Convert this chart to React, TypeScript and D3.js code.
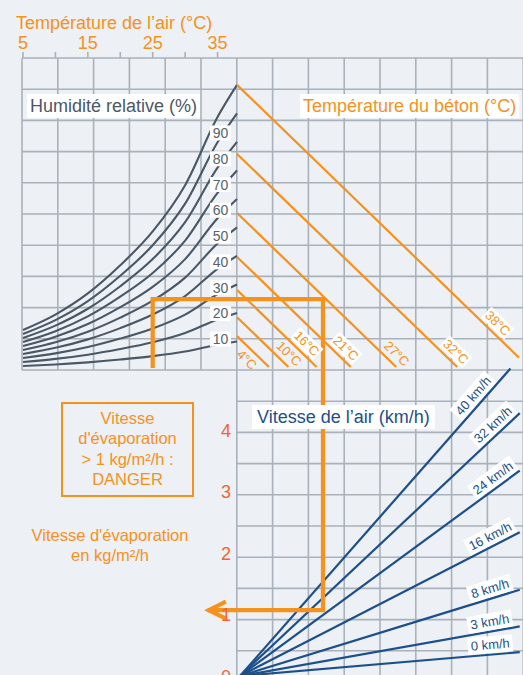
import React, { useEffect, useRef } from 'react';
import * as d3 from 'd3';

// ---------- data ----------
const AIR_TEMP_TICKS = [5, 10, 15, 20, 25, 30, 35];
const AIR_TEMP_LABELS = [5, 15, 25, 35];
// saturation (100 % RH) vapour pressure curve, kPa
const SAT_TEMPS = [5, 10, 15, 20, 25, 30, 35, 38];
const SAT_VP = [0.91, 1.26, 1.74, 2.38, 3.15, 4.2, 5.75, 6.48];
const RH_LEVELS = [100, 90, 80, 70, 60, 50, 40, 30, 20, 10];
const RH_LABELS = [90, 80, 70, 60, 50, 40, 30, 20, 10];
const RH_LABEL_TEMP = 35.45;

const CONCRETE_TEMPS = [4, 10, 16, 21, 27, 32, 38];
const CONCRETE_START_VP = [0.77, 1.2, 1.82, 2.57, 3.57, 4.91, 6.48];
const CONCRETE_LABEL_DIFF = [0.37, 0.99, 1.38, 2.24, 3.36, 4.66, 5.58];
const CONCRETE_LABEL_SIDE = [1, -1, -1, -1, -1, -1, -1];
const CONCRETE_LABEL_BOX = [false, false, true, true, false, true, true];

const WIND_SPEEDS = [0, 3, 8, 16, 24, 32, 40];
const WIND_RATE = [0.063, 0.131, 0.228, 0.38, 0.543, 0.695, 0.841]; // kg/m²/h per kPa
const WIND_LABEL_DIFF = [5.52, 5.53, 5.56, 5.6, 5.69, 5.71, 5.29];

const EVAP_TICKS = [0, 1, 2, 3, 4];

const EX_AIR_TEMP = 25;
const EX_VP = 1.61;
const EX_DIFF = 1.89;
const EX_EVAP = 1.07;

const DANGER_LINES = ['Vitesse', "d'évaporation", '> 1 kg/m²/h :', 'DANGER'];
const EVAP_TITLE = ["Vitesse d'évaporation", 'en kg/m²/h'];

// ---------- style ----------
const ORANGE = '#f5921e';
const RED = '#ee6538';
const NAVY = '#1d4f8b';
const SLATE = '#4a5866';
const LABEL_GREY = '#56626e';
const GRID = '#a9b2ba';
const BG = '#edf0f4';
const FONT = '"Liberation Sans", Arial, Helvetica, sans-serif';

export default function App() {
  const ref = useRef<SVGSVGElement>(null);

  useEffect(() => {
    document.body.style.margin = '0';
    document.body.style.background = BG;
    const svg = d3.select(ref.current as SVGSVGElement);
    svg.selectAll('*').remove();
    svg.attr('font-family', FONT);

    const W = 523, H = 675;
    const left = 22, top = 58, midX = 236.8, midY = 370;

    const xAir = d3.scaleLinear().domain([5, 38]).range([23, 237]);
    const yVp = d3.scaleLinear().domain([0, 7]).range([midY, midY - 308]);
    const xDiff = d3.scaleLinear().domain([0, 6.2]).range([237, 519]);
    const xWind = d3.scaleLinear().domain([0, 6.2]).range([240, 522]);
    const yEvap = d3.scaleLinear().domain([0, 4]).range([676, 430]);
    const satAt = d3.scaleLinear().domain(SAT_TEMPS).range(SAT_VP);

    svg.append('rect').attr('width', W).attr('height', H).attr('fill', BG);

    // grid
    const grid = svg.append('g').attr('stroke', GRID).attr('stroke-width', 1.6);
    d3.range(0, 15).map((k) => left + k * 35.8).forEach((x) => {
      grid.append('line').attr('x1', x).attr('x2', x).attr('y1', top)
        .attr('y2', x < midX - 1 ? midY : H);
    });
    d3.range(0, 20).map((k) => top + k * 31.2).forEach((y) => {
      grid.append('line').attr('y1', y).attr('y2', y)
        .attr('x1', y <= midY + 1 ? left : midX).attr('x2', W);
    });

    // top axis
    AIR_TEMP_TICKS.forEach((t) => {
      svg.append('line').attr('x1', xAir(t)).attr('x2', xAir(t)).attr('y1', 52).attr('y2', top)
        .attr('stroke', GRID).attr('stroke-width', 1.6);
    });
    AIR_TEMP_LABELS.forEach((t) => {
      svg.append('text').attr('x', xAir(t)).attr('y', 49).attr('text-anchor', 'middle')
        .attr('font-size', 18).attr('fill', ORANGE).text(String(t));
    });
    svg.append('text').attr('x', 16).attr('y', 29).attr('font-size', 18).attr('fill', ORANGE)
      .text('Température de l’air (°C)');

    // RH curves
    const line = d3.line<[number, number]>()
      .x((d) => xAir(d[0])).y((d) => yVp(d[1])).curve(d3.curveMonotoneX);
    RH_LEVELS.forEach((rh) => {
      const pts = SAT_TEMPS.map((t, i) => [t, (SAT_VP[i] * rh) / 100] as [number, number]);
      svg.append('path').attr('d', line(pts) as string).attr('fill', 'none')
        .attr('stroke', SLATE).attr('stroke-width', 2.1);
    });

    // concrete temperature lines
    CONCRETE_TEMPS.forEach((_, i) => {
      const s = CONCRETE_START_VP[i];
      const dEnd = Math.min(s - 0.07, 6.2);
      svg.append('line').attr('x1', xDiff(0)).attr('y1', yVp(s))
        .attr('x2', xDiff(dEnd)).attr('y2', yVp(s - dEnd))
        .attr('stroke', ORANGE).attr('stroke-width', 2.2);
    });

    // wind lines
    WIND_SPEEDS.forEach((_, i) => {
      const r = WIND_RATE[i];
      const dEnd = Math.min(6.15, 5.0 / r);
      svg.append('line').attr('x1', xWind(0)).attr('y1', yEvap(0))
        .attr('x2', xWind(dEnd)).attr('y2', yEvap(r * dEnd))
        .attr('stroke', NAVY).attr('stroke-width', 2.2);
    });

    // example path
    const exX1 = xAir(EX_AIR_TEMP);
    const exY1 = yVp(EX_VP);
    const exX2 = xDiff(EX_DIFF);
    const exY2 = yEvap(EX_EVAP);
    const tipX = midX - 29;
    const p = d3.path();
    p.moveTo(exX1, midY - 2);
    p.lineTo(exX1, exY1);
    p.lineTo(exX2, exY1);
    p.lineTo(exX2, exY2);
    p.lineTo(tipX, exY2);
    svg.append('path').attr('d', p.toString()).attr('fill', 'none').attr('stroke', ORANGE)
      .attr('stroke-width', 4.2).attr('stroke-linejoin', 'miter');
    const ah = d3.path();
    ah.moveTo(tipX + 18, exY2 - 8.5);
    ah.lineTo(tipX + 1, exY2);
    ah.lineTo(tipX + 18, exY2 + 8.5);
    svg.append('path').attr('d', ah.toString()).attr('fill', 'none').attr('stroke', ORANGE)
      .attr('stroke-width', 4.2).attr('stroke-linejoin', 'miter');

    // helper for labels
    const addLabel = (
      tx: number, ty: number, angle: number, lx: number, ly: number, text: string,
      size: number, color: string, box: boolean, anchor = 'middle', padX = 2, padY = 1,
    ) => {
      const g = svg.append('g').attr('transform', `translate(${tx},${ty}) rotate(${angle})`);
      const t = g.append('text').attr('x', lx).attr('y', ly).attr('text-anchor', anchor)
        .attr('font-size', size).attr('fill', color).text(text);
      if (box) {
        const b = (t.node() as SVGTextElement).getBBox();
        g.insert('rect', 'text').attr('x', b.x - padX).attr('y', b.y - padY)
          .attr('width', b.width + 2 * padX).attr('height', b.height + 2 * padY).attr('fill', '#fff');
      }
    };

    // RH labels
    const satL = satAt(RH_LABEL_TEMP);
    RH_LABELS.forEach((rh) => {
      const cx = xAir(RH_LABEL_TEMP);
      const cy = yVp((satL * rh) / 100) - 5;
      const g = svg.append('g');
      g.append('rect').attr('x', cx - 10.5).attr('y', cy - 7.5).attr('width', 21).attr('height', 15)
        .attr('fill', '#fff');
      g.append('text').attr('x', cx).attr('y', cy + 5).attr('text-anchor', 'middle')
        .attr('font-size', 14).attr('fill', LABEL_GREY).text(String(rh));
    });

    // concrete labels
    const cAngle = (Math.atan2(44, 45.48) * 180) / Math.PI;
    CONCRETE_TEMPS.forEach((t, i) => {
      const d = CONCRETE_LABEL_DIFF[i];
      const px = xDiff(d);
      const py = yVp(CONCRETE_START_VP[i] - d);
      addLabel(px, py, cAngle, 0, CONCRETE_LABEL_SIDE[i] * 10 + 4.5, `${t}°C`, 13, ORANGE,
        CONCRETE_LABEL_BOX[i], 'middle', 1.5, 0);
    });

    // wind labels
    WIND_SPEEDS.forEach((w, i) => {
      const d = WIND_LABEL_DIFF[i];
      const r = WIND_RATE[i];
      const px = xWind(d);
      const py = yEvap(r * d);
      const ang = (Math.atan((r * 61.5) / 45.48) * 180) / Math.PI;
      addLabel(px, py, -ang, 0, -5.5, `${w} km/h`, 13, NAVY, true, 'middle', 3, 1);
    });

    // evaporation ticks
    EVAP_TICKS.forEach((v) => {
      svg.append('text').attr('x', 226).attr('y', yEvap(v) + 6.5).attr('text-anchor', 'middle')
        .attr('font-size', 18).attr('fill', RED).text(String(v));
    });

    // titles with white boxes
    addLabel(30, 112, 0, 0, 0, 'Humidité relative (%)', 18, '#4b5866', true, 'start', 3, 2);
    addLabel(303, 112, 0, 0, 0, 'Température du béton (°C)', 18, ORANGE, true, 'start', 3, 2);
    addLabel(257, 423, 0, 0, 0, 'Vitesse de l’air (km/h)', 18, NAVY, true, 'start', 5, 2);

    // danger box
    svg.append('rect').attr('x', 62).attr('y', 403).attr('width', 131).attr('height', 93)
      .attr('fill', 'none').attr('stroke', ORANGE).attr('stroke-width', 2);
    DANGER_LINES.forEach((s, i) => {
      svg.append('text').attr('x', 127.5).attr('y', 424 + i * 20.3).attr('text-anchor', 'middle')
        .attr('font-size', 16.5).attr('fill', ORANGE).text(s);
    });
    EVAP_TITLE.forEach((s, i) => {
      svg.append('text').attr('x', 110).attr('y', 541 + i * 20).attr('text-anchor', 'middle')
        .attr('font-size', 16.5).attr('fill', ORANGE).text(s);
    });
  }, []);

  return (
    <svg
      ref={ref}
      width={523}
      height={675}
      style={{ position: 'absolute', left: 0, top: 0, display: 'block' }}
    />
  );
}
